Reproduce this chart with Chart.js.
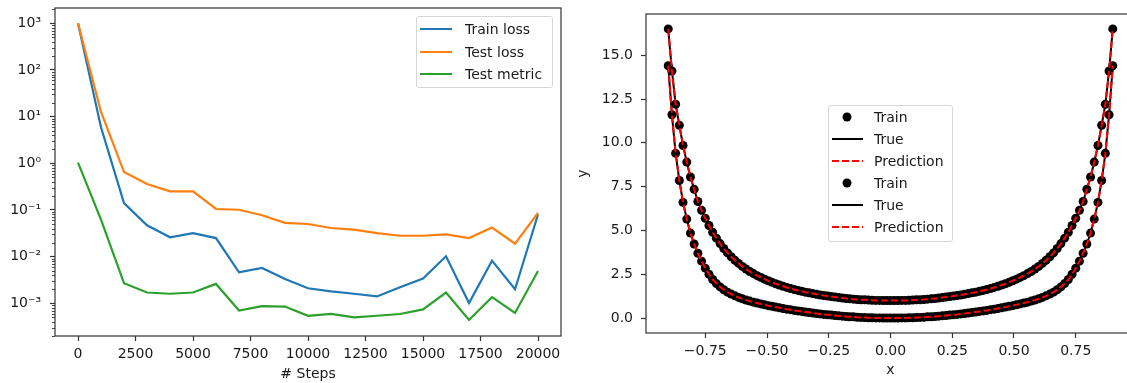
<!DOCTYPE html>
<html>
<head>
<meta charset="utf-8">
<title>Loss history and fit</title>
<script src="https://cdn.jsdelivr.net/npm/chart.js@4.4.1/dist/chart.umd.min.js"></script>
<style>
  body { margin: 0; background: #fff; width: 1127px; height: 383px; overflow: hidden; position: relative; font-family: "DejaVu Sans", sans-serif; }
  canvas { position: absolute; top: 0; }
  #lossChart { left: 0; }
  #fitChart { left: 570px; }
  .legend { position: absolute; box-sizing: border-box; background: rgba(255,255,255,0.8); border: 1px solid #d6d6d6; border-radius: 3px; font-size: 14px; color: #1a1a1a; }
  .legend .row { display: flex; align-items: center; white-space: nowrap; }
  .legend svg { flex: none; }
</style>
</head>
<body>
<canvas id="lossChart" width="570" height="383"></canvas>
<canvas id="fitChart" width="570" height="383"></canvas>
<div class="legend" id="lossLegend" style="left:416px;top:16px;width:137px;height:72px;padding:1px 0 0 3px"></div>
<div class="legend" id="fitLegend" style="left:828px;top:105px;width:125px;height:137px;padding:0 0 0 3px"></div>
<script>
// left panel: losses logged every 1000 steps
const steps = [0, 1000, 2000, 3000, 4000, 5000, 6000, 7000, 8000, 9000, 10000,
  11000, 12000, 13000, 14000, 15000, 16000, 17000, 18000, 19000, 20000];
const trainLoss = [1000, 5.9, 0.14, 0.047, 0.026, 0.032, 0.025, 0.0046, 0.0057, 0.0033, 0.0021,
  0.0018, 0.0016, 0.0014, 0.0022, 0.0034, 0.0102, 0.00101, 0.0082, 0.002, 0.08];
const testLoss = [1000, 12.6, 0.65, 0.36, 0.25, 0.25, 0.105, 0.101, 0.077, 0.053, 0.05,
  0.041, 0.038, 0.032, 0.028, 0.028, 0.03, 0.025, 0.042, 0.019, 0.087];
const testMetric = [1.03, 0.062, 0.0027, 0.0017, 0.0016, 0.0017, 0.0026, 0.0007, 0.00087, 0.00085, 0.00054,
  0.00059, 0.0005, 0.00054, 0.00059, 0.00074, 0.0017, 0.00044, 0.00135, 0.00062, 0.0049];
const lossNames = ['Train loss', 'Test loss', 'Test metric'];
const lossColors = ['#1f77b4', '#ff7f0e', '#2ca02c'];
const stepTicks = [0, 2500, 5000, 7500, 10000, 12500, 15000, 17500, 20000];
const decadeTicks = [1e-3, 1e-2, 0.1, 1, 10, 100, 1000];
const decadeLabels = ['10\u207B\u00B3', '10\u207B\u00B2', '10\u207B\u00B9', '10\u2070', '10\u00B9', '10\u00B2', '10\u00B3'];

// right panel: train points / true curve / prediction for two curves
const xs = [-0.9, -0.885, -0.87, -0.855, -0.84, -0.825, -0.81, -0.795, -0.78, -0.765,
  -0.75, -0.735, -0.72, -0.705, -0.69, -0.675, -0.66, -0.645, -0.63, -0.615,
  -0.6, -0.585, -0.57, -0.555, -0.54, -0.525, -0.51, -0.495, -0.48, -0.465,
  -0.45, -0.435, -0.42, -0.405, -0.39, -0.375, -0.36, -0.345, -0.33, -0.315,
  -0.3, -0.285, -0.27, -0.255, -0.24, -0.225, -0.21, -0.195, -0.18, -0.165,
  -0.15, -0.135, -0.12, -0.105, -0.09, -0.075, -0.06, -0.045, -0.03, -0.015,
  0,
  0.015, 0.03, 0.045, 0.06, 0.075, 0.09, 0.105, 0.12, 0.135, 0.15,
  0.165, 0.18, 0.195, 0.21, 0.225, 0.24, 0.255, 0.27, 0.285, 0.3,
  0.315, 0.33, 0.345, 0.36, 0.375, 0.39, 0.405, 0.42, 0.435, 0.45,
  0.465, 0.48, 0.495, 0.51, 0.525, 0.54, 0.555, 0.57, 0.585, 0.6,
  0.615, 0.63, 0.645, 0.66, 0.675, 0.69, 0.705, 0.72, 0.735, 0.75,
  0.765, 0.78, 0.795, 0.81, 0.825, 0.84, 0.855, 0.87, 0.885, 0.9];
const upperY = [16.5, 14.1, 12.2, 11.0, 9.85, 8.9, 8.05, 7.35, 6.65, 6.15,
  5.7, 5.28, 4.9, 4.56, 4.25, 3.97, 3.72, 3.5, 3.3, 3.12,
  2.95, 2.8, 2.66, 2.54, 2.42, 2.32, 2.22, 2.13, 2.04, 1.96,
  1.89, 1.82, 1.75, 1.69, 1.63, 1.58, 1.53, 1.48, 1.44, 1.4,
  1.36, 1.32, 1.29, 1.26, 1.23, 1.2, 1.17, 1.14, 1.12, 1.1,
  1.08, 1.06, 1.05, 1.04, 1.03, 1.02, 1.01, 1.01, 1.0, 1.0,
  1.0,
  1.0, 1.0, 1.01, 1.01, 1.02, 1.03, 1.04, 1.05, 1.06, 1.08,
  1.1, 1.12, 1.14, 1.17, 1.2, 1.23, 1.26, 1.29, 1.32, 1.36,
  1.4, 1.44, 1.48, 1.53, 1.58, 1.63, 1.69, 1.75, 1.82, 1.89,
  1.96, 2.04, 2.13, 2.22, 2.32, 2.42, 2.54, 2.66, 2.8, 2.95,
  3.12, 3.3, 3.5, 3.72, 3.97, 4.25, 4.56, 4.9, 5.28, 5.7,
  6.15, 6.65, 7.35, 8.05, 8.9, 9.85, 11.0, 12.2, 14.1, 16.5];
const lowerY = [14.4, 11.6, 9.4, 7.85, 6.6, 5.65, 4.85, 4.23, 3.7, 3.25,
  2.85, 2.5, 2.2, 1.97, 1.78, 1.62, 1.48, 1.37, 1.27, 1.18,
  1.1, 1.03, 0.97, 0.91, 0.86, 0.81, 0.76, 0.71, 0.67, 0.63,
  0.59, 0.55, 0.51, 0.48, 0.44, 0.41, 0.38, 0.35, 0.32, 0.29,
  0.26, 0.24, 0.21, 0.19, 0.17, 0.15, 0.13, 0.11, 0.09, 0.08,
  0.07, 0.05, 0.04, 0.03, 0.02, 0.02, 0.01, 0.01, 0.0, 0.0,
  0.0,
  0.0, 0.0, 0.01, 0.01, 0.02, 0.02, 0.03, 0.04, 0.05, 0.07,
  0.08, 0.09, 0.11, 0.13, 0.15, 0.17, 0.19, 0.21, 0.24, 0.26,
  0.29, 0.32, 0.35, 0.38, 0.41, 0.44, 0.48, 0.51, 0.55, 0.59,
  0.63, 0.67, 0.71, 0.76, 0.81, 0.86, 0.91, 0.97, 1.03, 1.1,
  1.18, 1.27, 1.37, 1.48, 1.62, 1.78, 1.97, 2.2, 2.5, 2.85,
  3.25, 3.7, 4.23, 4.85, 5.65, 6.6, 7.85, 9.4, 11.6, 14.4];
const fitNames = ['Train', 'True', 'Prediction'];
const xTicks = [-0.75, -0.5, -0.25, 0, 0.25, 0.5, 0.75];
const yTicks = [0, 2.5, 5, 7.5, 10, 12.5, 15];

const tickFont = { family: 'DejaVu Sans', size: 14 };
const textColor = '#1a1a1a';
const axisColor = '#333';

// minor ticks of the log axis, 2..9 times each decade
const logMin = 1.99e-4, logMax = 2130;
const minorTicks = [];
for (let e = -4; e <= 3; e++) {
  for (let m = 2; m <= 9; m++) {
    const v = m * Math.pow(10, e);
    if (v >= logMin && v <= logMax) minorTicks.push(v);
  }
}

const frame = {
  id: 'frame',
  afterDatasetsDraw(chart) {
    const { ctx, chartArea: a } = chart;
    ctx.save();
    ctx.strokeStyle = axisColor;
    ctx.lineWidth = 1.2;
    ctx.strokeRect(a.left, a.top, a.right - a.left, a.bottom - a.top);
    ctx.restore();
  }
};

const minorTickMarks = {
  id: 'minorTickMarks',
  afterDraw(chart) {
    const { ctx, chartArea: a, scales } = chart;
    ctx.save();
    ctx.strokeStyle = axisColor;
    ctx.lineWidth = 0.9;
    ctx.beginPath();
    minorTicks.forEach(v => {
      const y = Math.round(scales.y.getPixelForValue(v)) + 0.5;
      ctx.moveTo(a.left - 3, y);
      ctx.lineTo(a.left, y);
    });
    ctx.stroke();
    ctx.restore();
  }
};

// fixed axis boxes, no extra room for the end labels
const fixHeight = h => s => { s.height = h; s.paddingLeft = 0; s.paddingRight = 0; };
const fixWidth = w => s => { s.width = w; s.paddingTop = 0; s.paddingBottom = 0; };

const tickGrid = { drawOnChartArea: false, drawTicks: true, tickLength: 5, tickColor: axisColor, tickWidth: 1.2 };

new Chart(document.getElementById('lossChart'), {
  type: 'line',
  data: {
    datasets: [trainLoss, testLoss, testMetric].map((vals, i) => ({
      label: lossNames[i],
      data: steps.map((s, k) => ({ x: s, y: vals[k] })),
      borderColor: lossColors[i],
      borderWidth: 2.2,
      pointRadius: 0,
      fill: false,
      tension: 0,
      order: 3 - i
    }))
  },
  options: {
    responsive: false,
    animation: false,
    events: [],
    layout: { padding: { top: 8, right: 9, left: 0, bottom: 0 } },
    plugins: { legend: { display: false }, tooltip: { enabled: false } },
    scales: {
      x: {
        type: 'linear', min: -1000, max: 21000,
        afterBuildTicks: s => { s.ticks = stepTicks.map(v => ({ value: v })); },
        afterFit: fixHeight(47),
        grid: tickGrid,
        border: { display: false },
        ticks: { font: tickFont, color: textColor, padding: 5, maxRotation: 0, autoSkip: false, callback: v => String(v) },
        title: { display: true, text: '# Steps', font: tickFont, color: textColor, padding: 0 }
      },
      y: {
        type: 'logarithmic', min: logMin, max: logMax,
        afterBuildTicks: s => { s.ticks = decadeTicks.map(v => ({ value: v })); },
        afterFit: fixWidth(55),
        grid: tickGrid,
        border: { display: false },
        ticks: { font: tickFont, color: textColor, padding: 9, autoSkip: false, callback: v => decadeLabels[decadeTicks.indexOf(v)] }
      }
    }
  },
  plugins: [frame, minorTickMarks]
});

const fitSets = [];
[upperY, lowerY].forEach(ys => {
  fitSets.push({ label: 'Train', data: xs.map((x, k) => ({ x, y: ys[k] })), showLine: false,
    pointRadius: 4.5, pointBackgroundColor: '#000', pointBorderWidth: 0, order: 3 });
  fitSets.push({ label: 'True', data: xs.map((x, k) => ({ x, y: ys[k] })), borderColor: '#000',
    borderWidth: 2, pointRadius: 0, order: 2 });
  fitSets.push({ label: 'Prediction', data: xs.map((x, k) => ({ x, y: ys[k] })), borderColor: '#ff0000',
    borderWidth: 2, borderDash: [7, 3], pointRadius: 0, order: 1 });
});

const signed = (v, d) => (v < 0 ? '\u2212' : '') + Math.abs(v).toFixed(d);

new Chart(document.getElementById('fitChart'), {
  type: 'line',
  data: { datasets: fitSets },
  options: {
    responsive: false,
    animation: false,
    events: [],
    layout: { padding: { top: 14, right: 5, left: 0, bottom: 0 } },
    plugins: { legend: { display: false }, tooltip: { enabled: false } },
    scales: {
      x: {
        type: 'linear', min: -0.99, max: 0.99,
        afterBuildTicks: s => { s.ticks = xTicks.map(v => ({ value: v })); },
        afterFit: fixHeight(50),
        grid: tickGrid,
        border: { display: false },
        ticks: { font: tickFont, color: textColor, padding: 5, maxRotation: 0, autoSkip: false, callback: v => signed(v, 2) },
        title: { display: true, text: 'x', font: tickFont, color: textColor, padding: { top: 0, bottom: 4 } }
      },
      y: {
        type: 'linear', min: -0.85, max: 17.35,
        afterBuildTicks: s => { s.ticks = yTicks.map(v => ({ value: v })); },
        afterFit: fixWidth(76),
        grid: tickGrid,
        border: { display: false },
        ticks: { font: tickFont, color: textColor, padding: 8, autoSkip: false, callback: v => signed(v, 1) },
        title: { display: true, text: 'y', font: tickFont, color: textColor, padding: { top: 5, bottom: 0 } }
      }
    }
  },
  plugins: [frame]
});

// legends drawn as html boxes inside the axes
function lineIcon(color, dash, w) {
  return '<svg width="' + w + '" height="10"><line x1="0" y1="5" x2="' + w + '" y2="5" stroke="' + color +
    '" stroke-width="2"' + (dash ? ' stroke-dasharray="' + dash + '"' : '') + '/></svg>';
}
function dotIcon(w) {
  return '<svg width="' + w + '" height="10"><circle cx="15" cy="5" r="4.5" fill="#000"/></svg>';
}

document.getElementById('lossLegend').innerHTML = lossNames.map((name, i) =>
  '<div class="row" style="height:22.5px">' + lineIcon(lossColors[i], null, 32) +
  '<span style="margin-left:13px">' + name + '</span></div>').join('');

const fitIcons = [() => dotIcon(31), () => lineIcon('#000', null, 31), () => lineIcon('#ff0000', '7 3', 31)];
let fitRows = '';
for (let c = 0; c < 2; c++) {
  fitNames.forEach((name, i) => {
    fitRows += '<div class="row" style="height:22px">' + fitIcons[i]() +
      '<span style="margin-left:11px">' + name + '</span></div>';
  });
}
document.getElementById('fitLegend').innerHTML = fitRows;
</script>
</body>
</html>
